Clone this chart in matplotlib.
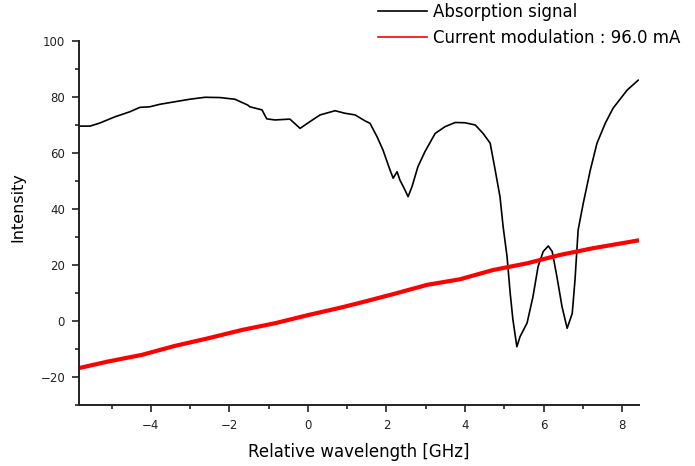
import matplotlib
matplotlib.use("Agg")
import matplotlib.pyplot as plt
from matplotlib.ticker import MultipleLocator

# Absorption signal (GHz, intensity)
abs_x = [-5.83, -5.55, -5.30, -4.92, -4.54, -4.28, -4.03, -3.77, -3.39, -3.01,
         -2.62, -2.24, -1.86, -1.53, -1.48, -1.17, -1.05, -0.84, -0.46, -0.20,
         0.05, 0.31, 0.69, 0.94, 1.20, 1.45, 1.58, 1.76, 1.91, 2.09,
         2.17, 2.27, 2.34, 2.47, 2.55, 2.65, 2.80, 2.98, 3.24, 3.49,
         3.75, 4.00, 4.26, 4.46, 4.64, 4.76, 4.89, 4.97, 5.07, 5.15,
         5.22, 5.32, 5.40, 5.58, 5.73, 5.86, 5.99, 6.12, 6.22, 6.34,
         6.47, 6.60, 6.73, 6.80, 6.88, 7.01, 7.19, 7.36, 7.57, 7.77,
         8.13, 8.41]
abs_y = [69.6, 69.6, 70.7, 72.9, 74.7, 76.3, 76.5, 77.4, 78.3, 79.2,
         79.9, 79.8, 79.2, 77.1, 76.5, 75.4, 72.2, 71.8, 72.1, 68.8,
         71.2, 73.6, 75.1, 74.2, 73.6, 71.5, 70.6, 65.8, 61.1, 53.9,
         51.0, 53.3, 50.4, 46.8, 44.4, 48.0, 55.1, 60.5, 67.0, 69.4,
         70.9, 70.8, 70.0, 67.0, 63.5, 54.5, 44.4, 33.7, 23.0, 9.9,
         0.4, -9.2, -5.6, -0.7, 8.7, 19.4, 24.8, 26.8, 24.8, 15.8,
         5.1, -2.6, 2.7, 14.6, 32.5, 42.0, 53.9, 63.5, 70.6, 76.0,
         82.5, 86.0]

# Laser current modulation ramp
mod_x = [-5.86, -5.10, -4.23, -3.39, -2.55, -1.68, -0.84, 0.00, 0.87, 1.38,
         2.17, 3.03, 3.87, 4.71, 5.58, 6.42, 7.26, 8.38]
mod_y = [-16.9, -14.5, -12.1, -8.9, -6.2, -3.2, -0.8, 2.1, 4.9, 6.7,
         9.6, 12.9, 14.9, 18.2, 20.6, 23.6, 26.0, 28.7]

labels = ["Absorption signal", "Current modulation : 96.0 mA"]

W, H = 695, 466
fig = plt.figure(figsize=(W / 100, H / 100), dpi=100)
ax = fig.add_axes([79 / W, 1 - 405 / H, 560 / W, 364 / H])

l1, = ax.plot(abs_x, abs_y, color="black", lw=1.2)
l2, = ax.plot(mod_x, mod_y, color="#ff0000", lw=3.0, solid_joinstyle="miter")

ax.set_xlim(-5.83, 8.43)
ax.set_ylim(-30, 100)
ax.xaxis.set_major_locator(MultipleLocator(2))
ax.xaxis.set_minor_locator(MultipleLocator(1))
ax.yaxis.set_major_locator(MultipleLocator(20))
ax.yaxis.set_minor_locator(MultipleLocator(10))

for s in ("top", "right"):
    ax.spines[s].set_visible(False)
for s in ("left", "bottom"):
    ax.spines[s].set_linewidth(1.4)
    ax.spines[s].set_color("#222222")

ax.tick_params(which="major", direction="out", length=5, width=1.2,
               labelsize=8.5, pad=5, colors="#222222")
ax.tick_params(which="minor", direction="out", length=3, width=1.2,
               colors="#222222")

ax.set_xlabel("Relative wavelength [GHz]", fontsize=12, labelpad=8)
ax.set_ylabel("Intensity", fontsize=11.5)
ax.yaxis.set_label_coords(-0.095, 0.545)

leg = ax.legend([l1, l2], labels, loc="upper left",
                bbox_to_anchor=(378 / W, 1 - 3 / H),
                bbox_transform=fig.transFigure, frameon=False,
                fontsize=12, handlelength=2.95, handletextpad=0.36,
                labelspacing=0.5, borderpad=0, borderaxespad=0)
leg.get_lines()[0].set_linewidth(1.2)
leg.get_lines()[1].set_linewidth(1.2)

fig.savefig("out.png", dpi=100)
